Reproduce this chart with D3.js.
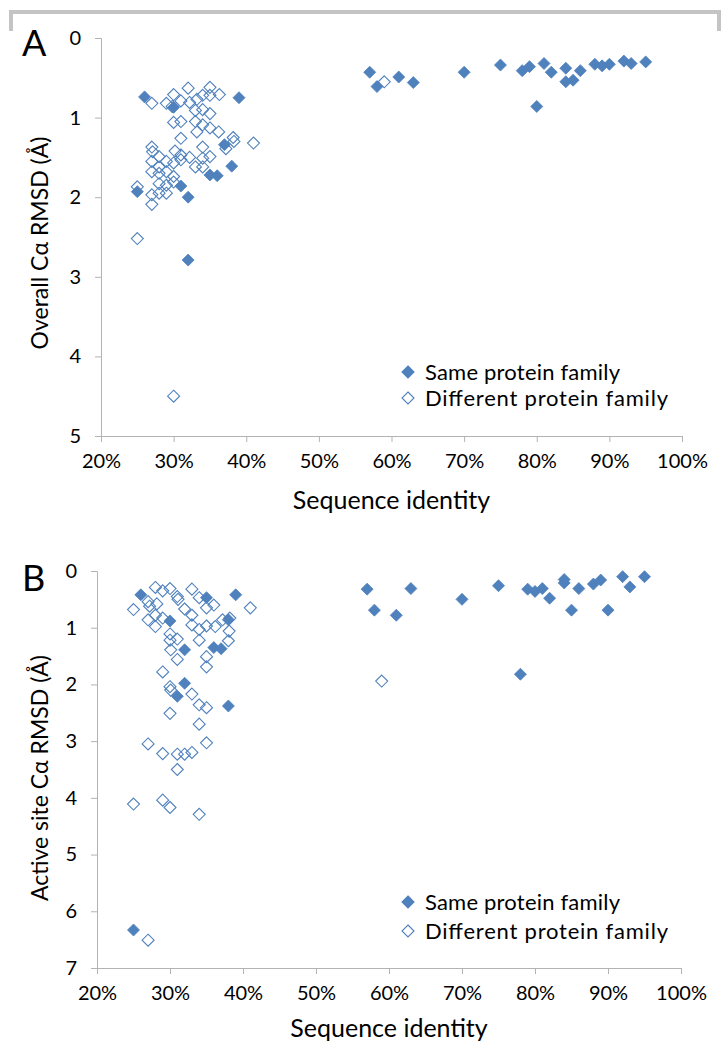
<!DOCTYPE html>
<html><head><meta charset="utf-8">
<script src="https://cdn.jsdelivr.net/npm/d3@7"></script>
<style>
html,body{margin:0;padding:0;background:#fff;}
svg text{font-family:Lato,"Open Sans",sans-serif;fill:#000;}
</style></head>
<body>
<svg id="c" width="728" height="1049"></svg>
<script>
// ---------- DATA ----------
const xTicks = [0.2,0.3,0.4,0.5,0.6,0.7,0.8,0.9,1.0];
const yTicksA = [0,1,2,3,4,5];
const yTicksB = [0,1,2,3,4,5,6,7];
const seriesNames = ["Same protein family","Different protein family"];

// Panel A: overall C-alpha RMSD  [identity %, RMSD]
const sameA = [
 [26,0.74],[30,0.87],[39,0.75],[37,1.34],[38,1.61],[35,1.72],[36,1.73],[31,1.86],[25,1.93],[32,2.0],[32,2.79],
 [57,0.43],[58,0.61],[61,0.49],[63,0.56],[70,0.43],[75,0.34],[78,0.41],[79,0.36],[81,0.32],[82,0.43],[80,0.86],
 [84,0.38],[84,0.55],[85,0.53],[86,0.41],[88,0.33],[89,0.35],[90,0.33],[92,0.29],[93,0.32],[95,0.30]
];
const diffA = [
 [32,0.63],[35,0.62],[34,0.72],[36.3,0.71],[30,0.71],[27,0.82],[29,0.82],[31,0.79],[32.2,0.81],[33.2,0.77],[35,0.72],
 [29.8,0.86],[33,0.91],[34,0.90],[35,0.95],[33,1.05],[30,1.06],[31,1.05],[34,1.09],[35,1.13],[36.2,1.18],[33.2,1.18],
 [31,1.26],[38.2,1.25],[38.3,1.30],[37.2,1.39],[41,1.32],[34,1.37],[27,1.37],[27.1,1.43],[28,1.49],[30.2,1.42],
 [31,1.47],[32.2,1.50],[34,1.51],[35,1.49],[27,1.55],[28,1.62],[29,1.55],[30,1.57],[31,1.53],[33,1.62],[34,1.62],
 [27,1.68],[28,1.70],[29,1.68],[30,1.74],[28,1.83],[29,1.85],[30,1.81],[25,1.87],[27,1.97],[28,1.95],[29,1.95],
 [27,2.09],[25,2.52],[30,4.5],[59,0.55]
];

// Panel B: active-site C-alpha RMSD  [identity %, RMSD]
const sameB = [
 [26,0.42],[39,0.42],[35,0.47],[30,0.88],[38,0.86],[32,1.39],[36,1.35],[37,1.37],[32,1.98],[31,2.21],[38,2.38],[25,6.33],
 [57,0.32],[58,0.69],[61,0.78],[63,0.31],[70,0.50],[75,0.26],[79,0.32],[80,0.36],[81,0.31],[82,0.48],[84,0.15],[84,0.21],
 [85,0.69],[86,0.31],[78,1.82],[88,0.23],[89,0.16],[90,0.69],[92,0.10],[93,0.28],[95,0.10]
];
const diffB = [
 [28,0.29],[29,0.35],[30,0.31],[33,0.32],[34,0.47],[27,0.54],[27.2,0.62],[28.2,0.58],[25,0.68],[31,0.45],[31.1,0.50],
 [36,0.60],[35,0.65],[41,0.65],[27,0.86],[28,0.78],[29,0.83],[28,0.98],[32,0.67],[33,0.78],[34,1.03],[35,0.97],[36.2,0.98],
 [37.2,0.86],[38.2,0.83],[38.1,1.06],[38,1.23],[30,1.11],[30,1.22],[31,1.20],[30.1,1.39],[31,1.56],[33,0.95],[34,1.22],
 [35,1.51],[35,1.69],[29,1.78],[30,2.04],[30.1,2.10],[33,2.17],[34,2.36],[35,2.41],[30,2.51],[34,2.70],
 [27,3.05],[35,3.03],[29,3.22],[31,3.23],[32,3.23],[33,3.20],[31,3.50],[25,4.11],[29,4.04],[30,4.17],[34,4.29],[27,6.51],
 [59,1.94]
];

// ---------- DRAW ----------
const svg = d3.select("#c");
const blue = "#4f81bd";
const axisCol = "#b3b3b3";

// top frame
svg.append("path").attr("d","M11,31 V12 H719 V31").attr("fill","none")
  .attr("stroke","#c4c4c4").attr("stroke-width",4);

function diamond(x,y,r){return `M${x},${y-r}L${x+r},${y}L${x},${y+r}L${x-r},${y}Z`;}

function panel(cfg){
  const x = d3.scaleLinear().domain([0.2,1.0]).range([cfg.x0,cfg.x1]);
  const y = d3.scaleLinear().domain([0,cfg.ymax]).range([cfg.y0,cfg.y1]);
  const g = svg.append("g");

  // y axis
  const ya = g.append("g").attr("transform",`translate(${cfg.x0},0)`)
    .call(d3.axisLeft(y).tickValues(cfg.yTicks).tickFormat(d3.format("d")).tickSize(6).tickPadding(14));
  ya.select(".domain").attr("stroke",axisCol).attr("d",`M-6,${cfg.y0}.5H0.5V${cfg.y1}`);
  ya.selectAll(".tick line").attr("stroke",axisCol);
  ya.selectAll(".tick text").style("font-size","20px").style("font-family","Lato,sans-serif").attr("fill","#000");

  // x axis
  const xa = g.append("g").attr("transform",`translate(0,${cfg.y1})`)
    .call(d3.axisBottom(x).tickValues(xTicks).tickFormat(d3.format(".0%")).tickSize(6).tickPadding(12));
  xa.select(".domain").attr("stroke",axisCol);
  xa.selectAll(".tick line").attr("stroke",axisCol);
  xa.selectAll(".tick text").style("font-size","20px").style("font-family","Lato,sans-serif").attr("fill","#000");

  // points
  const r = 6;
  g.append("g").selectAll("path").data(cfg.diff).join("path")
    .attr("d",d=>diamond(x(d[0]/100),y(d[1]),r))
    .attr("fill","#fff").attr("fill-opacity",0).attr("stroke",blue).attr("stroke-width",1.1);
  g.append("g").selectAll("path").data(cfg.same).join("path")
    .attr("d",d=>diamond(x(d[0]/100),y(d[1]),r))
    .attr("fill",blue).attr("stroke",blue).attr("stroke-width",0.8);

  // legend
  const lg = g.append("g");
  seriesNames.forEach((n,i)=>{
    const ly = cfg.legY[i];
    lg.append("path").attr("d",diamond(408,ly,6))
      .attr("fill",i===0?blue:"#fff").attr("stroke",blue).attr("stroke-width",1.1);
    lg.append("text").attr("x",425).attr("y",ly).attr("dy","0.35em")
      .style("font-size","22px").attr("textLength",cfg.legLen[i]).text(n);
  });

  // titles
  g.append("text").attr("x",(cfg.x0+cfg.x1)/2).attr("y",cfg.xTitleY).attr("text-anchor","middle")
    .attr("dy","0.35em").style("font-size","25px").text("Sequence identity");
  g.append("text").attr("transform",`translate(${cfg.yTitleX},${cfg.yTitleC}) rotate(-90)`)
    .attr("text-anchor","middle").attr("dy","0.35em").style("font-size","23px").text(cfg.yTitle);
  g.append("text").attr("x",22).attr("y",cfg.letterY).attr("dy","0.35em")
    .style("font-size","36px").text(cfg.letter);
}

panel({x0:101,x1:682,y0:38,y1:436,ymax:5,yTicks:yTicksA,same:sameA,diff:diffA,legLen:[195,243],
  legY:[372,398],xTitleY:500,yTitleX:40,yTitleC:243,yTitle:"Overall Cα RMSD (Å)",letter:"A",letterY:43});
panel({x0:97,x1:681,y0:571,y1:968,ymax:7,yTicks:yTicksB,same:sameB,diff:diffB,legLen:[195,243],
  legY:[902,931],xTitleY:1028,yTitleX:40,yTitleC:778,yTitle:"Active site Cα RMSD (Å)",letter:"B",letterY:578});
</script>
</body></html>
